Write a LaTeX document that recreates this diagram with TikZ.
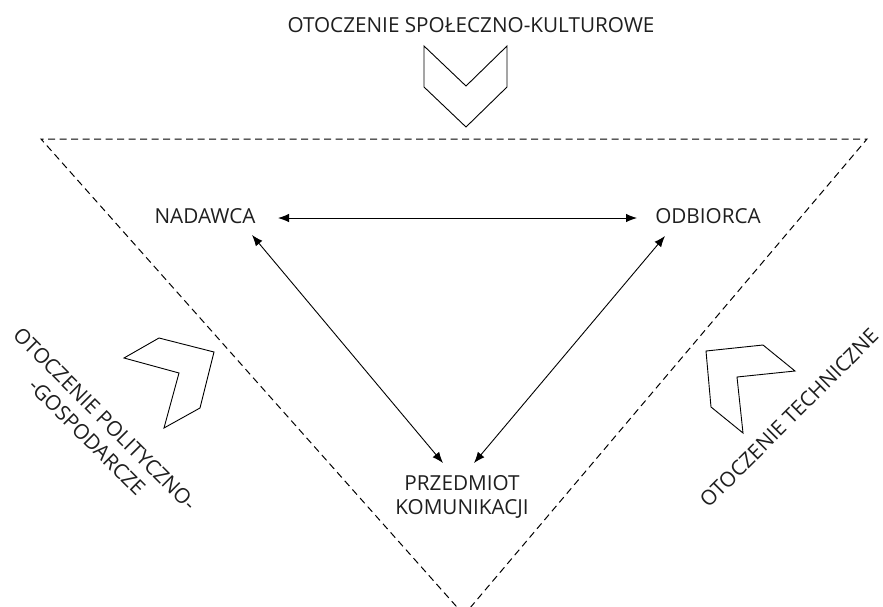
\documentclass[tikz,border=0pt]{standalone}
\usepackage{fontspec}
\setmainfont{Open Sans}
\usetikzlibrary{arrows.meta}
\tikzset{
  lbl/.style={inner sep=0pt, font=\fontsize{20.7}{24}\selectfont, text=black!88, align=center},
  conn/.style={line width=0.9pt, {Latex[length=11pt,width=8.5pt]}-{Latex[length=11pt,width=8.5pt]}},
  chev/.style={line width=0.9pt, line join=miter},
  dashtri/.style={line width=1pt, dash pattern=on 7pt off 4.5pt}
}
\begin{document}
\begin{tikzpicture}[x=1pt,y=-1pt]
\useasboundingbox (0,0) rectangle (883,606);
\fill[white] (0,0) rectangle (883,606);
\begin{scope}
\clip (0,0) rectangle (883,606);
\draw[dashtri] (464,615) -- (41,139) -- (867,139) -- (464,615);
\end{scope}
% chevrons
\draw[chev] (424,46) -- (466,86) -- (507,46) -- (507,87) -- (466,127) -- (424,87) -- cycle;
\draw[chev] (124,358) -- (159,338) -- (214,352) -- (200,408) -- (164,428) -- (179,373) -- cycle;
\draw[chev] (706,351) -- (763,345) -- (795,371) -- (737,377) -- (743,433) -- (711,407) -- cycle;
% labels
\node[lbl] (top) at (471,25) {OTOCZENIE SPOŁECZNO-KULTUROWE};
\node[lbl, rotate=-45, font=\fontsize{20.7}{25.5}\selectfont] (left) at (96,428) {OTOCZENIE POLITYCZNO-\\-GOSPODARCZE};
\node[lbl, rotate=45] (right) at (789,418) {OTOCZENIE TECHNICZNE};
\node[lbl] (nad) at (205,216) {NADAWCA};
\node[lbl] (odb) at (708,216) {ODBIORCA};
\node[lbl] (prz) at (462,497) {PRZEDMIOT\\KOMUNIKACJI};
% connectors
\draw[conn] ([shift={(73,2)}]nad.center) -- ([shift={(-71,2)}]odb.center);
\draw[conn] ([shift={(47,19)}]nad.center) -- ([shift={(-19,-34)}]prz.center);
\draw[conn] ([shift={(-43,20)}]odb.center) -- ([shift={(12,-34)}]prz.center);
\end{tikzpicture}
\end{document}
